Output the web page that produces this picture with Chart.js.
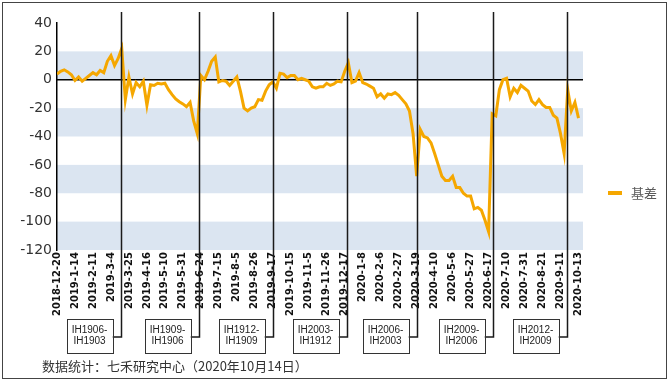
<!DOCTYPE html>
<html>
<head>
<meta charset="utf-8">
<script src="https://cdn.jsdelivr.net/npm/chart.js@4/dist/chart.umd.min.js"></script>
<style>
  html, body { margin: 0; padding: 0; background: #fff; }
  canvas { display: block; }
</style>
</head>
<body>
<canvas id="basis" width="669" height="384"></canvas>
<script>
// x axis tick labels (one every 15 trading days)
const tickLabels = ["2018-12-20", "2019-1-14", "2019-2-11", "2019-3-4", "2019-3-25", "2019-4-16",
  "2019-5-10", "2019-5-31", "2019-6-24", "2019-7-15", "2019-8-5", "2019-8-26", "2019-9-17",
  "2019-10-15", "2019-11-5", "2019-11-26", "2019-12-17", "2020-1-8", "2020-2-6", "2020-2-27",
  "2020-3-19", "2020-4-10", "2020-5-6", "2020-5-27", "2020-6-17", "2020-7-10", "2020-7-31",
  "2020-8-21", "2020-9-11", "2020-10-13"];

// 基差, read every 3 trading days (0.2 tick)
const step = 0.2;
const basis = [
  4, 6, 7, 5.5, 3.5, -0.5, 2, -1, 1, 3,
  5, 3.5, 6.5, 5, 13, 17, 10, 15, 22, -14,
  2, -10, -2, -5, -1, -18, -3.5, -4, -2.5, -3,
  -2.5, -7, -10.5, -13.5, -15.5, -17, -19, -16, -29, -38,
  3, 0, 6, 13, 16, -1.5, -0.5, -1, -4, -1,
  2, -8, -20, -22, -20, -19, -14, -14.5, -8, -3.5,
  -1.5, -6, 4.5, 4, 1.5, 3, 3, 0, 1, 0,
  -1, -5, -6, -5, -5, -2.5, -4, -3, -1, -1.5,
  6, 12, -2, -1, 5, -2, -3, -4.5, -6, -12,
  -10, -13, -10, -10.5, -9, -11, -14, -17, -22, -38,
  -68, -35, -40, -41, -44.5, -52, -60, -68, -71, -71,
  -68, -76, -76, -80, -82, -82, -91, -90, -92, -99,
  -107, -24, -25.5, -7, 0, 1, -12, -6, -9, -4,
  -6, -8, -15, -17.5, -14, -17.5, -19.5, -19.5, -25, -27,
  -38, -52, -7, -22, -16, -27
];

// contract rollovers (position in tick units) and their labels
const rollPos = [3.55, 7.92, 12.0, 16.15, 20.0, 24.25, 28.35];
const rollNew = ["IH1906-", "IH1909-", "IH1912-", "IH2003-", "IH2006-", "IH2009-", "IH2012-"];
const rollOld = ["IH1903", "IH1906", "IH1909", "IH1912", "IH2003", "IH2006", "IH2009"];

// shaded bands [top, bottom]
const bands = [[20, 0], [-20, -40], [-60, -80], [-100, -120]];

const points = basis.map((v, i) => ({ x: i * step, y: v }));

const decor = {
  id: 'decor',
  beforeDraw(chart) {
    const { ctx, chartArea: a, scales: { y } } = chart;
    ctx.save();
    ctx.fillStyle = '#dbe5f1';
    for (const [hi, lo] of bands) {
      const t = y.getPixelForValue(hi), b = y.getPixelForValue(lo);
      ctx.fillRect(a.left, t, a.right - a.left, b - t);
    }
    ctx.restore();
  },
  beforeDatasetsDraw(chart) {
    const { ctx, chartArea: a, scales: { y } } = chart;
    const y0 = y.getPixelForValue(0);
    ctx.save();
    ctx.strokeStyle = '#000';
    ctx.lineWidth = 1.3;
    ctx.beginPath();
    ctx.moveTo(a.left, y0);
    ctx.lineTo(a.right, y0);
    ctx.stroke();
    ctx.restore();
  },
  afterDraw(chart) {
    const { ctx, scales: { x } } = chart;
    ctx.save();
    const joinY = 337, boxTop = 319, boxH = 34, boxW = 46;
    rollPos.forEach((p, i) => {
      const lx = Math.round(x.getPixelForValue(p)) + 0.5;
      const bx = lx - 9 - boxW;
      ctx.strokeStyle = '#1a1a1a';
      ctx.lineWidth = 1.5;
      ctx.beginPath();
      ctx.moveTo(lx, 12);
      ctx.lineTo(lx, joinY);
      ctx.lineTo(bx + boxW, joinY);
      ctx.stroke();
      ctx.fillStyle = '#fff';
      ctx.fillRect(bx, boxTop, boxW, boxH);
      ctx.strokeStyle = '#333';
      ctx.lineWidth = 1;
      ctx.strokeRect(Math.round(bx) + 0.5, boxTop + 0.5, boxW, boxH);
      ctx.fillStyle = '#222';
      ctx.font = '10px "Liberation Sans", Arial, sans-serif';
      ctx.textAlign = 'center';
      ctx.textBaseline = 'middle';
      ctx.fillText(rollNew[i], bx + boxW / 2, boxTop + 11);
      ctx.fillText(rollOld[i], bx + boxW / 2, boxTop + 22);
    });

    // legend
    ctx.strokeStyle = '#f5a700';
    ctx.lineWidth = 4;
    ctx.beginPath();
    ctx.moveTo(608, 193);
    ctx.lineTo(622, 193);
    ctx.stroke();
    ctx.fillStyle = '#595959';
    ctx.font = '13px "Noto Sans CJK SC", sans-serif';
    ctx.textAlign = 'left';
    ctx.textBaseline = 'middle';
    ctx.fillText('基差', 631, 193);

    // source note
    ctx.fillStyle = '#333';
    ctx.font = '13px "Noto Sans CJK SC", sans-serif';
    ctx.fillText('数据统计：七禾研究中心（2020年10月14日）', 42, 366);

    // frame
    ctx.strokeStyle = '#444';
    ctx.lineWidth = 1;
    ctx.strokeRect(2.5, 2.5, 664, 376);
    ctx.restore();
  }
};

const ctx = document.getElementById('basis').getContext('2d');
new Chart(ctx, {
  type: 'line',
  data: {
    datasets: [{
      label: '基差',
      data: points,
      borderColor: '#f5a700',
      backgroundColor: '#f5a700',
      borderWidth: 3,
      pointRadius: 0,
      tension: 0,
      fill: false
    }]
  },
  options: {
    responsive: false,
    animation: false,
    devicePixelRatio: 1,
    layout: { padding: { top: 23, right: 86, left: 0, bottom: 0 } },
    plugins: { legend: { display: false }, tooltip: { enabled: false } },
    scales: {
      x: {
        type: 'linear',
        min: 0,
        max: 29.25,
        grid: { display: false, drawTicks: false },
        border: { display: false },
        afterFit(s) { s.height = 134; },
        ticks: {
          stepSize: 1,
          includeBounds: false,
          autoSkip: false,
          minRotation: 90,
          maxRotation: 90,
          padding: 2,
          color: '#111',
          font: { family: 'DejaVu Sans', size: 10, weight: 'bold' },
          callback: (v) => tickLabels[v] ?? ''
        }
      },
      y: {
        min: -120,
        max: 40,
        grid: { display: false, drawTicks: false },
        border: { display: true, color: '#000', width: 1.5 },
        afterFit(s) { s.width = 57; },
        ticks: {
          stepSize: 20,
          padding: 5,
          color: '#333',
          font: { family: 'DejaVu Sans', size: 14 }
        }
      }
    }
  },
  plugins: [decor]
});
</script>
</body>
</html>
